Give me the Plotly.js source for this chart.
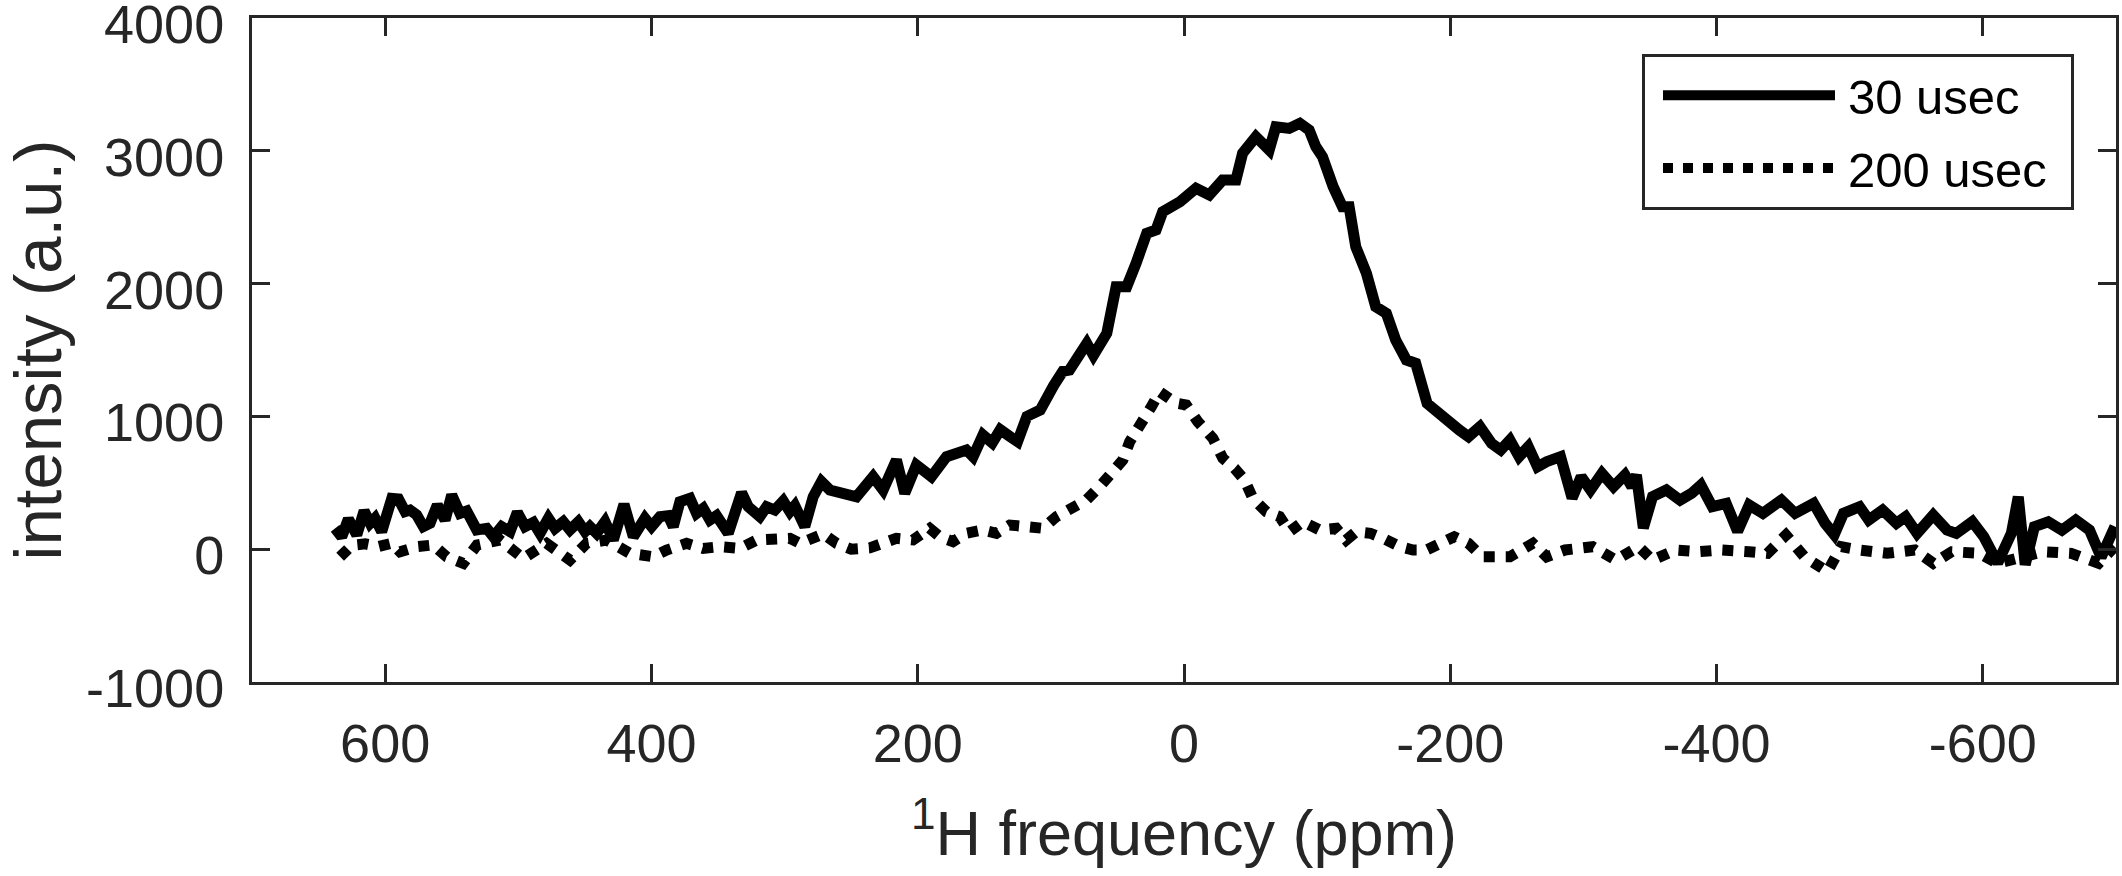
<!DOCTYPE html>
<html>
<head>
<meta charset="utf-8">
<script src="https://cdn.plot.ly/plotly-3.0.1.min.js"></script>
<style>
  html, body { margin: 0; padding: 0; background: #ffffff; }
  #chart { width: 2122px; height: 876px; }
</style>
</head>
<body>
<div id="chart"></div>
<script>
// ---- data ----
const seriesNames = ['30 usec', '200 usec'];

// 30 usec trace: 1H frequency (ppm) and intensity (a.u.)
const ppm30 = [637.6, 632.6, 627.6, 621.3, 615.8, 611.3, 607.6, 602.6, 595.0, 590.0, 585.0, 581.3, 576.3, 571.3, 566.3, 560.8, 555.0, 550.0, 543.8, 538.8, 531.2, 523.7, 518.7, 512.5, 506.2, 500.7, 494.9, 488.7, 483.7, 477.4, 472.4, 466.2, 461.2, 454.9, 449.9, 446.2, 441.2, 434.9, 428.6, 420.6, 413.6, 404.9, 399.9, 393.6, 387.4, 383.6, 378.6, 371.1, 366.1, 361.1, 356.1, 351.1, 342.3, 332.3, 327.3, 323.6, 318.6, 313.5, 307.3, 301.0, 296.0, 292.3, 284.8, 278.5, 272.3, 266.0, 258.5,
  246, 233.5, 226, 216, 209.7, 201, 189.7, 178.4, 163.4, 158.4, 151, 144, 138, 131, 125, 118, 111, 108, 98, 91, 86, 78, 73, 68, 61, 58, 51, 43, 36, 28, 21, 16, 3, -9, -19, -29, -39, -44, -54, -64, -69, -79, -87, -94, -99, -104, -112, -119, -124, -129, -137, -144, -152, -159, -167, -174,
  -182.6, -196.4, -206.8, -213.7, -222.3, -231.0, -237.9, -244.8, -251.7, -258.6, -265.5, -272.4, -282.8, -291.5, -298.3, -305.3, -313.9, -322.6, -331.2, -336.4, -339.8, -345.0, -351.9, -362.3, -372.6, -381.3, -388.2, -396.8, -407.2, -415.8, -424.5, -434.8, -448.7, -459.0, -472.9, -481.5, -488.4, -495.3, -507.4, -514.3, -524.7, -535.1, -542.0, -550.6, -562.7, -573.1, -580.0, -592.1, -600.7, -611.1, -621.4, -626.6, -631.8, -638.7, -649.1, -659.4, -669.8, -680.1, -688.8, -699.2];
const int30 = [157, 94, 227, 107, 288, 195, 233, 132, 383, 378, 283, 295, 258, 170, 195, 333, 220, 408, 270, 288, 145, 157, 94, 170, 132, 278, 170, 202, 120, 233, 157, 207, 145, 207, 132, 170, 120, 207, 69, 338, 94, 233, 170, 245, 253, 170, 358, 383, 270, 308, 220, 253, 120, 426, 320, 295, 245, 320, 295, 363, 283, 328, 170, 395, 509, 446, 421,
  395, 546, 446, 672, 421, 634, 546, 696, 747, 696, 860, 800, 900, 850, 810, 1000, 1030, 1048, 1230, 1340, 1349, 1462, 1550, 1460, 1600, 1626, 1977, 1977, 2153, 2379, 2404, 2541, 2617, 2717, 2667, 2780, 2780, 2981, 3106, 3006, 3181, 3169, 3207, 3157, 3031, 2956, 2730, 2579, 2579, 2278, 2078, 1826, 1776, 1575, 1425, 1400,
  1098, 973, 897, 847, 923, 797, 747, 822, 697, 772, 621, 659, 697, 385, 546, 446, 571, 471, 559, 471, 559, 160, 396, 446, 370, 421, 483, 320, 345, 134, 333, 270, 370, 270, 345, 195, 109, 270, 320, 220, 295, 195, 245, 119, 257, 144, 119, 207, 94, -104, 119, 395, -117, 170, 207, 144, 220, 144, -60, 170];

// 200 usec trace
const ppm200 = [633.8, 625, 615, 605, 595, 588.8, 576.3, 563.8, 553.8, 541.3, 531, 513.7, 496.2, 478.7, 461.2, 448.7, 433.6, 416.2, 398.7, 388.6, 373.6, 361.1, 348.6, 333.6, 321, 308.6, 296, 288.5, 271, 261, 250, 236, 226, 216, 203.5, 191, 183.5, 173.5, 163.4, 151, 140.9, 130.9, 118.4, 105.9, 95.9, 83.4, 73.3, 63.4, 53.4, 45.9, 40.8, 33.3, 24.5, 18.3, 5.8, -1.7, -10.4, -21.7, -29.2, -38, -45.5, -51.7, -61.8, -71.8, -79.3, -89.3, -101.8, -114.3, -121.8, -129.3, -140, -150, -162, -172, -182, -203, -213.6, -224, -244.8, -262, -272.4, -286.2, -307, -324.3, -341.5, -351.9, -369.2, -386.5, -403.7, -424.5, -438.3, -452.1, -466, -483.3, -493.6, -507.4, -528.1, -548.9, -562.8, -576.6, -597.3, -611.1, -631.8, -645.6, -666.4, -687, -699];
const int200 = [-57, 30, 40, 20, 45, -19, 19, 32, -57, -106, 32, 69, -69, 44, -82, 44, 69, -31, -57, -6, 44, 6, 19, 6, 69, 69, 82, 44, 115, 44, 0, 10, 57, 82, 70, 157, 94, 57, 120, 145, 120, 182, 170, 157, 245, 320, 370, 471, 584, 672, 809, 922, 1073, 1186, 1099, 1086, 960, 835, 684, 609, 521, 383, 282, 245, 132, 207, 145, 157, 69, 132, 120, 80, 20, -6, -6, 94, 44, -57, -57, 44, -57, -6, 19, -82, 19, -82, -6, -19, -6, -19, -31, 107, -57, -169, 19, -6, -31, -6, -106, -19, -31, -106, -57, -19, -31, -106, 19];

// axis ticks
const xTickVals = [600, 400, 200, 0, -200, -400, -600];
const xTickText = ['600', '400', '200', '0', '-200', '-400', '-600'];
const yTickVals = [-1000, 0, 1000, 2000, 3000, 4000];
const yTickText = ['-1000', '0', '1000', '2000', '3000', '4000'];

// ---- styling ----
const FONT = 'Arial, "Liberation Sans", Helvetica, sans-serif';
const INK = '#262626';

const traces = [
  {
    x: ppm30, y: int30, name: seriesNames[0], type: 'scatter', mode: 'lines',
    line: {color: '#000000', width: 11, dash: 'solid'},
    legendgroup: 'a'
  },
  {
    x: ppm200, y: int200, name: seriesNames[1], type: 'scatter', mode: 'lines',
    line: {color: '#000000', width: 11, dash: 'dot'},
    legendgroup: 'b'
  }
];

const axisCommon = {
  showline: true, linecolor: INK, linewidth: 3, mirror: 'ticks',
  ticks: 'inside', ticklen: 18, tickwidth: 3, tickcolor: INK,
  showgrid: false, zeroline: false, ticklabeloverflow: 'allow',
  tickfont: {family: FONT, size: 54, color: INK}
};

const layout = {
  width: 2122, height: 876,
  paper_bgcolor: '#ffffff', plot_bgcolor: '#ffffff',
  margin: {l: 252, r: 6, t: 18, b: 194, pad: 0},
  font: {family: FONT, color: INK},
  showlegend: true,
  xaxis: Object.assign({}, axisCommon, {
    range: [700, -700], autorange: false,
    tickmode: 'array', tickvals: xTickVals, ticktext: xTickText,
    ticklabelstandoff: 12,
    title: {text: '<sup>1</sup>H frequency (ppm)', font: {family: FONT, size: 63, color: INK}, standoff: 40}
  }),
  yaxis: Object.assign({}, axisCommon, {
    range: [-1000, 4000], autorange: false,
    tickmode: 'array', tickvals: yTickVals, ticktext: yTickText,
    ticklabelstandoff: 14, ticklabelshift: 6,
    title: {text: 'intensity (a.u.)', font: {family: FONT, size: 67, color: INK}, standoff: 37}
  }),
  legend: {
    x: 0.7457, xanchor: 'left', y: 0.9458, yanchor: 'top',
    bgcolor: '#ffffff', bordercolor: INK, borderwidth: 3,
    font: {family: FONT, size: 49, color: '#000000'},
    itemwidth: 193, traceorder: 'grouped', tracegroupgap: 6
  }
};

Plotly.newPlot('chart', traces, layout, {staticPlot: true, displayModeBar: false}).then(function (gd) {
  try {
    // lengthen and inset the legend sample lines like the reference key
    gd.querySelectorAll('.legend .legendlines path').forEach(function (p) {
      p.setAttribute('d', 'M18,0h172');
    });
    // widen the legend box a little on its right side
    const bg = gd.querySelector('.legend rect.bg');
    if (bg) {
      const w = parseFloat(bg.getAttribute('width'));
      if (isFinite(w)) bg.setAttribute('width', w + 19);
    }
  } catch (e) { /* keep the default legend if anything differs */ }
});
</script>
</body>
</html>
